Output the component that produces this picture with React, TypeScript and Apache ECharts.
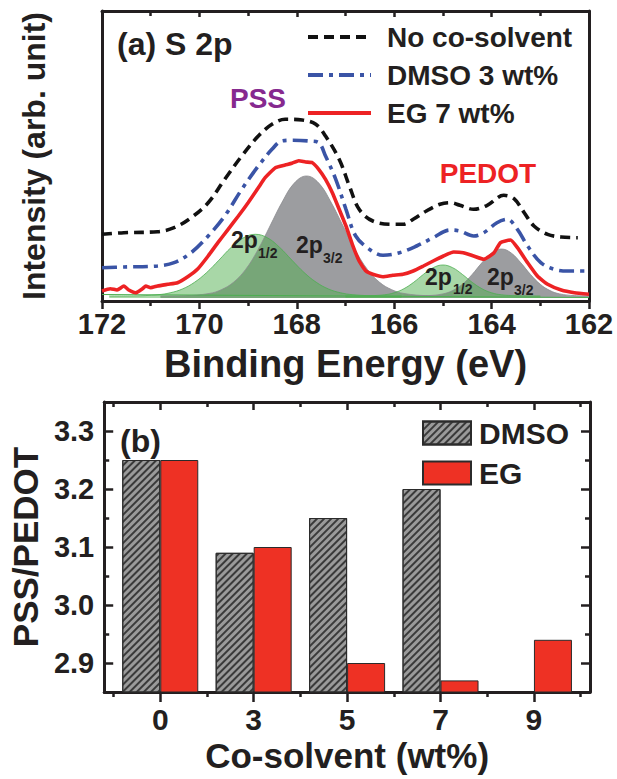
import React, { useEffect, useRef } from "react";
import * as echarts from "echarts";

// ---------- (a) S 2p XPS spectra : [binding energy (eV), intensity (arb. unit)] ----------
const noCoSolvent: [number, number][] = [
  [172.0, 66.7], [171.55, 68.3], [170.86, 69.3], [170.52, 73.3], [170.17, 83.3], [169.82, 98.3],
  [169.48, 121.7], [169.13, 145], [168.79, 165], [168.51, 176.7], [168.24, 181.7], [167.89, 181],
  [167.61, 176.7], [167.41, 165], [167.13, 141.7], [166.92, 115], [166.72, 91.7], [166.44, 80],
  [166.03, 76.7], [165.82, 76.7], [165.61, 81.7], [165.34, 90], [165.06, 96.7], [164.85, 98.3],
  [164.65, 95.7], [164.37, 91.7], [164.09, 95.7], [163.75, 105.7], [163.54, 102.3], [163.33, 88.3],
  [163.13, 75], [162.85, 66.7], [162.57, 64], [162.23, 63.3],
];

const dmso3wt: [number, number][] = [
  [172.0, 33.3], [171.55, 34], [170.86, 35], [170.52, 38.3], [170.17, 48.3], [169.82, 65],
  [169.48, 85], [169.13, 111.7], [168.79, 135], [168.51, 151.7], [168.31, 160], [168.1, 160.7],
  [167.75, 160], [167.55, 158.3], [167.41, 145], [167.2, 121.7], [166.99, 91.7], [166.79, 65],
  [166.51, 51.7], [166.23, 45.7], [165.89, 48.3], [165.54, 55], [165.2, 63.3], [164.85, 71],
  [164.65, 70], [164.37, 65], [164.16, 68.3], [163.89, 78.3], [163.68, 81.7], [163.47, 71.7],
  [163.26, 55], [162.99, 38.3], [162.71, 31.7], [162.44, 30], [162.0, 30],
];

const eg7wt: [number, number][] = [
  [172.0, 10], [171.83, 12.3], [171.69, 11], [171.55, 15], [171.45, 11], [171.31, 8.3],
  [171.17, 12.3], [171.1, 15], [171.0, 13.3], [170.86, 15], [170.65, 16.7], [170.45, 18.3],
  [170.24, 24.3], [170.03, 32.3], [169.82, 45], [169.62, 58.3], [169.41, 71.7], [169.2, 85],
  [169.0, 98.3], [168.79, 113.3], [168.65, 123.3], [168.44, 133.3], [168.24, 136], [168.1, 137.7],
  [167.96, 140.3], [167.82, 139], [167.68, 138.3], [167.55, 131.7], [167.41, 121.7], [167.27, 108.3],
  [167.13, 91.7], [166.99, 75], [166.86, 56.7], [166.72, 40], [166.58, 30], [166.44, 26.7],
  [166.23, 24.3], [166.03, 25.7], [165.82, 26.7], [165.61, 30], [165.4, 35], [165.2, 40],
  [164.99, 45], [164.78, 49], [164.58, 48.3], [164.37, 45], [164.16, 41.7], [163.95, 48.3],
  [163.82, 58.3], [163.61, 61], [163.47, 53.3], [163.26, 38.3], [163.06, 25], [162.85, 16.7],
  [162.57, 11], [162.3, 8.3], [162.0, 6.7],
];

// fitted components (read from the shaded peaks)
const pss2p12: [number, number][] = [
  [171.85, 5], [171.35, 5.1], [170.85, 6.3], [170.6, 8.2], [170.35, 12], [170.1, 18.7],
  [169.85, 28.5], [169.6, 40.8], [169.35, 53.5], [169.1, 63.1], [168.85, 66.7], [168.6, 63.1],
  [168.35, 53.5], [168.1, 40.8], [167.85, 28.5], [167.6, 18.7], [167.35, 12], [167.1, 8.2],
  [166.85, 6.3], [166.35, 5.1], [165.85, 5],
];
const pss2p32: [number, number][] = [
  [170.8, 5], [170.3, 5.3], [169.8, 7.5], [169.55, 11.3], [169.3, 18.7], [169.05, 31.6],
  [168.8, 51], [168.55, 75], [168.3, 99], [168.05, 118], [167.8, 125], [167.55, 118],
  [167.3, 99], [167.05, 75], [166.8, 51], [166.55, 31.6], [166.3, 18.7], [166.05, 11.3],
  [165.8, 7.5], [165.3, 5.3], [164.8, 5],
];
const pedot2p12: [number, number][] = [
  [167.0, 5], [166.5, 5.3], [166.2, 6.2], [166.0, 8.2], [165.8, 12.3], [165.6, 18.7],
  [165.4, 26.6], [165.2, 33.3], [165.0, 36], [164.8, 33.3], [164.6, 26.6], [164.4, 18.7],
  [164.2, 12.3], [164.0, 8.2], [163.8, 6.2], [163.5, 5.3], [163.0, 5],
];
const pedot2p32: [number, number][] = [
  [165.8, 5], [165.3, 5.4], [165.0, 7.1], [164.8, 10.4], [164.6, 16.7], [164.4, 26.5],
  [164.2, 38.2], [164.0, 48.1], [163.8, 52], [163.6, 48.1], [163.4, 38.2], [163.2, 26.5],
  [163.0, 16.7], [162.8, 10.4], [162.6, 7.1], [162.3, 5.4], [162.0, 5],
];
const fitBaseline: [number, number][] = [[172.0, 6.5], [162.0, 3.5]];

// ---------- (b) PSS/PEDOT ratio ----------
const coSolventLabels = ["0", "3", "5", "7", "9"];
const dmsoRatio: (number | null)[] = [3.25, 3.09, 3.15, 3.2, null];
const egRatio: (number | null)[] = [3.25, 3.1, 2.9, 2.87, 2.94];
const ratioTicks = [2.9, 3.0, 3.1, 3.2, 3.3];
const ratioMinorTicks = [2.95, 3.05, 3.15, 3.25];
const catTicks = [0, 1, 2, 3, 4];
const catMinorTicks = [-0.5, 0.5, 1.5, 2.5, 3.5, 4.5];

const FONT = '"Liberation Sans", Arial, Helvetica, sans-serif';
const INK = "#231f20";
const bold = (size: number, color: string = INK) => ({
  fontFamily: FONT,
  fontWeight: "bold" as const,
  fontSize: size,
  color,
});
const frameLine = { show: true, onZero: false, lineStyle: { color: INK, width: 3 } };
const tickStyle = { color: INK, width: 2.5 };
const noLabel = { show: false };
const noSplit = { show: false };

function gtext(text: string, x: number, y: number, size: number, color = INK, align = "left") {
  return {
    type: "text",
    x,
    y,
    z: 50,
    style: {
      text,
      fill: color,
      fontFamily: FONT,
      fontWeight: "bold",
      fontSize: size,
      align,
      verticalAlign: "middle",
    },
  };
}

function buildOption(): any {
  const pairs = (arr: (number | null)[]) =>
    arr.map((v, i) => (v == null ? null : [i, v])).filter((d) => d !== null);

  return {
    animation: false,
    backgroundColor: "#ffffff",
    grid: [
      { left: 102, top: 11, width: 487, height: 290, show: false },
      { left: 103, top: 402, width: 487, height: 290, show: false },
    ],
    xAxis: [
      {
        gridIndex: 0, type: "value", min: 162, max: 172, interval: 2, inverse: true, position: "bottom",
        axisLine: frameLine,
        axisTick: { show: true, inside: false, length: 8, lineStyle: tickStyle },
        minorTick: { show: true, splitNumber: 2, length: 5, lineStyle: tickStyle },
        splitLine: noSplit, minorSplitLine: noSplit,
        axisLabel: { ...bold(29), margin: 8 },
        name: "Binding Energy (eV)", nameLocation: "middle", nameGap: 44, nameTextStyle: bold(38),
      },
      {
        gridIndex: 0, type: "value", min: 162, max: 172, interval: 2, inverse: true, position: "top",
        axisLine: frameLine,
        axisTick: { show: true, inside: true, length: 6, lineStyle: tickStyle },
        minorTick: { show: true, splitNumber: 2, length: 5, lineStyle: tickStyle },
        splitLine: noSplit, axisLabel: noLabel,
      },
      {
        gridIndex: 1, type: "value", min: -0.6, max: 4.6, position: "bottom",
        axisLine: frameLine,
        axisTick: { show: true, inside: false, length: 10, customValues: catTicks, lineStyle: tickStyle },
        splitLine: noSplit,
        axisLabel: {
          ...bold(30), margin: 12, customValues: catTicks,
          formatter: (v: number) => coSolventLabels[Math.round(v)] ?? "",
        },
        name: "Co-solvent (wt%)", nameLocation: "middle", nameGap: 46, nameTextStyle: bold(35),
      },
      {
        gridIndex: 1, type: "value", min: -0.6, max: 4.6, position: "bottom",
        axisLine: { show: false, onZero: false },
        axisTick: { show: true, inside: false, length: 5, customValues: catMinorTicks, lineStyle: tickStyle },
        splitLine: noSplit, axisLabel: noLabel,
      },
      {
        gridIndex: 1, type: "value", min: -0.6, max: 4.6, position: "top",
        axisLine: frameLine,
        axisTick: { show: true, inside: true, length: 8, customValues: catTicks, lineStyle: tickStyle },
        splitLine: noSplit, axisLabel: noLabel,
      },
      {
        gridIndex: 1, type: "value", min: -0.6, max: 4.6, position: "top",
        axisLine: { show: false, onZero: false },
        axisTick: { show: true, inside: true, length: 5, customValues: catMinorTicks, lineStyle: tickStyle },
        splitLine: noSplit, axisLabel: noLabel,
      },
    ],
    yAxis: [
      {
        gridIndex: 0, type: "value", min: 0, max: 290, position: "left",
        axisLine: frameLine, axisTick: { show: false }, splitLine: noSplit, axisLabel: noLabel,
        name: "Intensity (arb. unit)", nameLocation: "middle", nameGap: 52, nameTextStyle: bold(32),
      },
      {
        gridIndex: 0, type: "value", min: 0, max: 290, position: "right",
        axisLine: frameLine, axisTick: { show: false }, splitLine: noSplit, axisLabel: noLabel,
      },
      {
        gridIndex: 1, type: "value", min: 2.85, max: 3.35, position: "left",
        axisLine: frameLine,
        axisTick: { show: true, inside: true, length: 9, customValues: ratioTicks, lineStyle: tickStyle },
        splitLine: noSplit,
        axisLabel: {
          ...bold(29), margin: 10, customValues: ratioTicks,
          formatter: (v: number) => v.toFixed(1),
        },
        name: "PSS/PEDOT", nameLocation: "middle", nameGap: 56, nameTextStyle: bold(35),
      },
      {
        gridIndex: 1, type: "value", min: 2.85, max: 3.35, position: "left",
        axisLine: { show: false, onZero: false },
        axisTick: { show: true, inside: true, length: 5, customValues: ratioMinorTicks, lineStyle: tickStyle },
        splitLine: noSplit, axisLabel: noLabel,
      },
      {
        gridIndex: 1, type: "value", min: 2.85, max: 3.35, position: "right",
        axisLine: frameLine,
        axisTick: { show: true, inside: true, length: 9, customValues: ratioTicks, lineStyle: tickStyle },
        splitLine: noSplit, axisLabel: noLabel,
      },
      {
        gridIndex: 1, type: "value", min: 2.85, max: 3.35, position: "right",
        axisLine: { show: false, onZero: false },
        axisTick: { show: true, inside: true, length: 5, customValues: ratioMinorTicks, lineStyle: tickStyle },
        splitLine: noSplit, axisLabel: noLabel,
      },
    ],
    legend: [
      {
        data: ["No co-solvent", "DMSO 3 wt%", "EG 7 wt%"],
        orient: "vertical", left: 306, top: 22, padding: 0,
        itemWidth: 63, itemHeight: 14, itemGap: 8,
        itemStyle: { color: "transparent", borderWidth: 0, opacity: 0 },
        lineStyle: { width: 4 },
        textStyle: { ...bold(28), lineHeight: 30, padding: [0, 0, 0, 11] },
        selectedMode: false,
      },
      {
        data: ["DMSO", "EG"],
        orient: "vertical", left: 422, top: 418, padding: 0,
        icon: "rect",
        itemWidth: 48, itemHeight: 23, itemGap: 10,
        textStyle: { ...bold(30), lineHeight: 30, padding: [0, 0, 0, 3] },
        selectedMode: false,
      },
    ],
    series: [
      {
        name: "PSS 2p3/2", type: "line", xAxisIndex: 0, yAxisIndex: 0, data: pss2p32,
        symbol: "none", smooth: 0.4, lineStyle: { color: "#8b8c8f", width: 0.8 },
        areaStyle: { color: "#9c9da0", opacity: 1, origin: 3 }, silent: true,
      },
      {
        name: "PEDOT 2p3/2", type: "line", xAxisIndex: 0, yAxisIndex: 0, data: pedot2p32,
        symbol: "none", smooth: 0.4, lineStyle: { color: "#8b8c8f", width: 0.8 },
        areaStyle: { color: "#9c9da0", opacity: 1, origin: 3 }, silent: true,
      },
      {
        name: "PSS 2p1/2", type: "line", xAxisIndex: 0, yAxisIndex: 0, data: pss2p12,
        symbol: "none", smooth: 0.4, lineStyle: { color: "#4caf50", width: 0.8 },
        areaStyle: { color: "#52b04f", opacity: 0.5, origin: 3 }, silent: true,
      },
      {
        name: "PEDOT 2p1/2", type: "line", xAxisIndex: 0, yAxisIndex: 0, data: pedot2p12,
        symbol: "none", smooth: 0.4, lineStyle: { color: "#4caf50", width: 0.8 },
        areaStyle: { color: "#52b04f", opacity: 0.5, origin: 3 }, silent: true,
      },
      {
        name: "fit baseline", type: "line", xAxisIndex: 0, yAxisIndex: 0, data: fitBaseline,
        symbol: "none", lineStyle: { color: "#4caf50", width: 1 }, silent: true,
      },
      {
        name: "No co-solvent", type: "line", xAxisIndex: 0, yAxisIndex: 0, data: noCoSolvent,
        symbol: "none", smooth: 0.35, itemStyle: { color: "#111111" },
        lineStyle: { color: "#111111", width: 3.6, type: [10, 6] },
      },
      {
        name: "DMSO 3 wt%", type: "line", xAxisIndex: 0, yAxisIndex: 0, data: dmso3wt,
        symbol: "none", smooth: 0.35, itemStyle: { color: "#3a54a6" },
        lineStyle: { color: "#3a54a6", width: 3.6, type: [15, 6, 4, 6] },
      },
      {
        name: "EG 7 wt%", type: "line", xAxisIndex: 0, yAxisIndex: 0, data: eg7wt,
        symbol: "none", smooth: 0.15, itemStyle: { color: "#ed2224" },
        lineStyle: { color: "#ed2224", width: 3.6 },
      },
      {
        name: "DMSO", type: "bar", xAxisIndex: 2, yAxisIndex: 2, data: pairs(dmsoRatio),
        barWidth: 38, barGap: "0%",
        itemStyle: {
          color: "#9a9a9a", borderColor: "#2b2b2b", borderWidth: 1,
          decal: {
            symbol: "rect", symbolSize: 1, dashArrayX: [1, 0], dashArrayY: [1.2, 2.4],
            rotation: -Math.PI / 4, color: "#3a3a3a",
          },
        },
      },
      {
        name: "EG", type: "bar", xAxisIndex: 2, yAxisIndex: 2, data: pairs(egRatio),
        barWidth: 38, barGap: "0%",
        itemStyle: { color: "#ee3124", borderColor: "#2b2b2b", borderWidth: 1 },
      },
    ],
    graphic: [
      gtext("(a) S 2p", 117, 44, 32),
      gtext("PSS", 258, 98, 28, "#86298f", "center"),
      gtext("PEDOT", 488, 173, 28, "#ed2224", "center"),
      gtext("2p", 231, 240, 23),
      gtext("1/2", 258, 253, 14),
      gtext("2p", 296, 245, 23),
      gtext("3/2", 323, 258, 14),
      gtext("2p", 425, 277, 23),
      gtext("1/2", 453, 289, 14),
      gtext("2p", 487, 277, 23),
      gtext("3/2", 514, 290, 14),
      gtext("(b)", 120, 441, 32),
    ],
  };
}

export default function App() {
  const ref = useRef<HTMLDivElement>(null);
  useEffect(() => {
    if (!ref.current) return;
    const chart = echarts.init(ref.current, null, { renderer: "svg" });
    chart.setOption(buildOption());
    return () => chart.dispose();
  }, []);
  return (
    <div
      ref={ref}
      style={{ position: "fixed", left: 0, top: 0, width: 617, height: 779, background: "#fff" }}
    />
  );
}
